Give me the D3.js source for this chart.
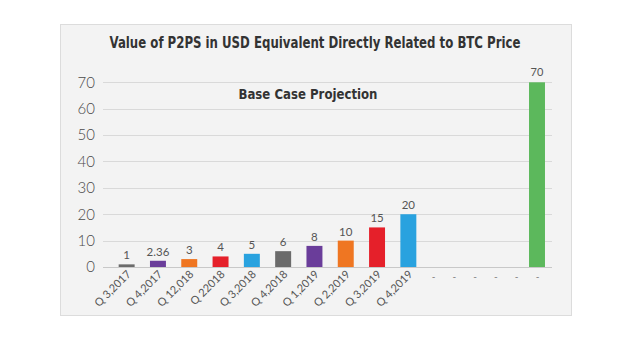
<!DOCTYPE html>
<html><head><meta charset="utf-8">
<script src="https://cdn.jsdelivr.net/npm/d3@7"></script>
<style>
html,body{margin:0;padding:0;background:#fff;}
svg{display:block;}
</style></head>
<body>
<svg id="chart" width="640" height="356"></svg>
<script>
const title = "Value of P2PS in USD Equivalent Directly Related to BTC Price";
const subtitle = "Base Case Projection";
const quarters = ["Q 3,2017","Q 4,2017","Q 12,018","Q 22018","Q 3,2018","Q 4,2018","Q 1,2019","Q 2,2019","Q 3,2019","Q 4,2019"];
const quarterValues = [1, 2.36, 3, 4, 5, 6, 8, 10, 15, 20];
const quarterLabels = ["1","2.36","3","4","5","6","8","10","15","20"];
const extraKeys = ["e1","e2","e3","e4","e5","e6"];
const extraValues = [null, null, null, null, null, 70];
const extraLabels = ["", "", "", "", "", "70"];
const yTicks = [0,10,20,30,40,50,60,70];
const barColors = ["#6b6b6b","#6a3d9a","#ef7622","#e5202a","#29a2df","#6b6b6b","#6a3d9a","#ef7622","#e5202a","#29a2df"];
const extraColor = "#5cb85c";

const svg = d3.select("#chart");
// panel
svg.append("rect").attr("x",60.5).attr("y",24.5).attr("width",511).attr("height",291)
  .attr("fill","#f3f3f3").attr("stroke","#dcdcdc").attr("stroke-width",1);

const y = d3.scaleLinear().domain([0,70]).range([267,82.3]);
const x1 = d3.scaleBand().domain(quarters).range([111,424]).paddingInner(0.49).paddingOuter(0.245);
const x2 = d3.scalePoint().domain(extraKeys).range([433,537]);
const bw = x1.bandwidth();

// gridlines
svg.append("g").selectAll("line").data(yTicks).join("line")
  .attr("x1",103).attr("x2",552)
  .attr("y1",d=>Math.round(y(d))+0.5).attr("y2",d=>Math.round(y(d))+0.5)
  .attr("stroke",d=>d===0?"#c8c8c8":"#d9d9d9").attr("stroke-width",1);

// y axis labels
const yAxis = d3.axisLeft(y).tickValues(yTicks).tickSize(0).tickPadding(0);
const gy = svg.append("g").attr("transform","translate(95,0)").call(yAxis);
gy.select(".domain").remove();
gy.selectAll("text").attr("font-family","Lato, 'Open Sans', sans-serif").attr("font-weight",300)
  .attr("font-size",15).attr("fill","#4a4a4a");

// title
svg.append("text").attr("x",315).attr("y",48).attr("text-anchor","middle")
  .attr("font-family","'DejaVu Sans Condensed', 'DejaVu Sans', sans-serif").attr("font-weight","bold")
  .attr("font-size",15).attr("fill","#333")
  .attr("textLength",411).attr("lengthAdjust","spacingAndGlyphs").text(title);
svg.append("text").attr("x",308).attr("y",99).attr("text-anchor","middle")
  .attr("font-family","'DejaVu Sans Condensed', 'DejaVu Sans', sans-serif").attr("font-weight","bold")
  .attr("font-size",14).attr("fill","#333")
  .attr("textLength",139).attr("lengthAdjust","spacingAndGlyphs").text(subtitle);

// bars (quarters)
svg.append("g").selectAll("rect").data(quarters).join("rect")
  .attr("x",d=>x1(d)).attr("width",bw)
  .attr("y",(d,i)=>y(quarterValues[i])).attr("height",(d,i)=>y(0)-y(quarterValues[i]))
  .attr("fill",(d,i)=>barColors[i]);
svg.append("g").selectAll("text").data(quarters).join("text")
  .attr("x",d=>x1(d)+bw/2).attr("y",(d,i)=>y(quarterValues[i])-5)
  .attr("text-anchor","middle").attr("font-family","Lato, 'Open Sans', sans-serif").attr("font-weight",400)
  .attr("font-size",11.5).attr("fill","#555").text((d,i)=>quarterLabels[i]);

// extra bars
const extras = extraKeys.map((k,i)=>({k, v:extraValues[i], l:extraLabels[i]}));
svg.append("g").selectAll("rect").data(extras.filter(d=>d.v!==null)).join("rect")
  .attr("x",d=>x2(d.k)-bw/2).attr("width",bw)
  .attr("y",d=>y(d.v)).attr("height",d=>y(0)-y(d.v)).attr("fill",extraColor);
svg.append("g").selectAll("text").data(extras.filter(d=>d.v!==null)).join("text")
  .attr("x",d=>x2(d.k)).attr("y",d=>y(d.v)-6)
  .attr("text-anchor","middle").attr("font-family","Lato, 'Open Sans', sans-serif").attr("font-weight",400)
  .attr("font-size",11).attr("fill","#555").text(d=>d.l);

// x axis labels (rotated)
const gx = svg.append("g").attr("transform","translate(0,267)")
  .call(d3.axisBottom(x1).tickSize(0).tickPadding(0));
gx.select(".domain").remove();
gx.selectAll("text").attr("font-family","Lato, 'Open Sans', sans-serif").attr("font-weight",400)
  .attr("font-size",11).attr("fill","#555")
  .attr("text-anchor","end").attr("dy",null)
  .attr("transform","translate(5,8) rotate(-45)");

const gx2 = svg.append("g").attr("transform","translate(0,267)")
  .call(d3.axisBottom(x2).tickSize(0).tickPadding(0).tickFormat(()=>"-"));
gx2.select(".domain").remove();
gx2.selectAll("text").attr("font-family","Lato, 'Open Sans', sans-serif")
  .attr("font-size",10).attr("fill","#777").attr("dy",null).attr("y",13);
</script>
</body></html>
